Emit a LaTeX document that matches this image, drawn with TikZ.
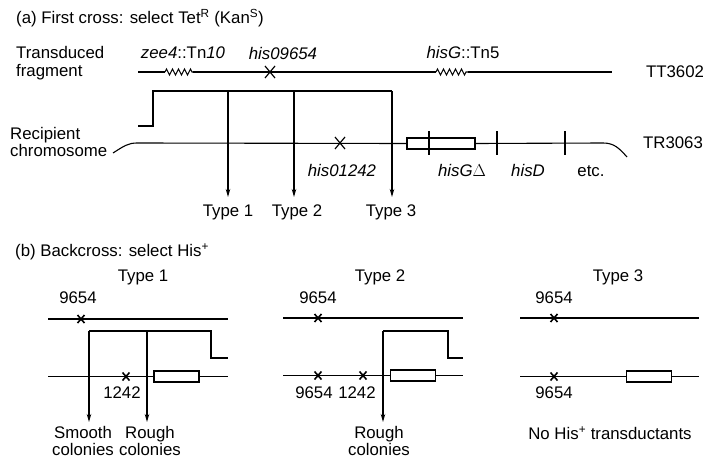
\documentclass[tikz,border=0pt]{standalone}
\usepackage{fontspec}
\setmainfont{Liberation Sans}
\usetikzlibrary{arrows.meta,decorations.pathmorphing}
\tikzset{
  lbl/.style={font=\fontsize{16.8}{17.5}\selectfont, inner sep=0pt},
  dna/.style={line width=1.1pt},
  zz/.style={decorate, decoration={zigzag, segment length=6pt, amplitude=3pt}},
  down/.style={line width=1.1pt, -{Stealth[length=8pt,width=4.5pt]}},
  gene/.style={draw, line width=1.1pt, fill=white, minimum width=68pt, minimum height=11pt, inner sep=0pt},
  smallgene/.style={draw, line width=1.1pt, fill=white, minimum width=45pt, minimum height=11pt, inner sep=0pt},
  bigx/.pic={\draw[line width=1.2pt] (-5,-6)--(5,6) (-5,6)--(5,-6);},
  smallx/.pic={\draw[line width=1.6pt] (-3.5,-4)--(3.5,4) (-3.5,4)--(3.5,-4);}
}
\begin{document}
\begin{tikzpicture}[x=1pt,y=-1pt]
\useasboundingbox (0,0) rectangle (712,460);
% ---------------- (a)
\node[lbl, anchor=west] (ta) at (16,18) {(a) First cross: select Tet\textsuperscript{R} (Kan\textsuperscript{S})};
\node[lbl, anchor=west, align=left] (tf) at (16,63) {Transduced\\fragment};
\node[lbl, anchor=west, align=left] (rc) at (10,142) {Recipient\\chromosome};
\node[lbl] (tt) at (675,72) {TT3602};
\node[lbl] (tr) at (673,143) {TR3063};
% transduced fragment
\coordinate (f0) at (138,72);
\coordinate (fz1) at (165,72);
\coordinate (fz2) at (193,72);
\coordinate (fz3) at (436,72);
\coordinate (fz4) at (468,72);
\coordinate (f1) at (612,72);
\draw[dna] (f0) -- (fz1);
\draw[dna, zz] (fz1) -- (fz2);
\draw[dna] (fz2) -- (fz3);
\draw[dna, zz] (fz3) -- (fz4);
\draw[dna] (fz4) -- (f1);
\pic at (270,72) {bigx};
\node[lbl] (zee) at (183,53) {\textit{zee4}::Tn\textit{10}};
\node[lbl] (h96) at (283,53) {\textit{his09654}};
\node[lbl] (hg) at (463,52) {\textit{hisG}::Tn5};
% recombination bracket
\coordinate (b0) at (138,126);
\coordinate (b1) at (153,126);
\coordinate (b2) at (153,91);
\coordinate (b3) at (392,91);
\coordinate (v1) at (228,91);
\coordinate (v2) at (294,91);
% recipient chromosome
\node[gene] (box) at (441,143.5) {};
\coordinate (c0) at (113,153);
\coordinate (c1) at (137,143);
\coordinate (c2) at (603,143);
\coordinate (c3) at (627,157);
\draw[dna] (c0) .. controls (124,146) and (128,143) .. (c1) -- (box.west);
\draw[dna] (box.east) -- (c2) .. controls (614,143) and (619,148) .. (c3);
\pic at (340,143) {bigx};
\draw[dna] (429,131) -- (429,155);
\draw[dna] (497,131) -- (497,155);
\draw[dna] (565,131) -- (565,155);
\node[lbl] (h12) at (342,170) {\textit{his01242}};
\node[lbl] (hgd) at (462,170) {\textit{hisG}$\Delta$};
\node[lbl] (hd) at (528,170) {\textit{hisD}};
\node[lbl] (etc) at (591,171) {etc.};
% types
\node[lbl] (t1) at (228,212) {Type 1};
\node[lbl] (t2) at (297,212) {Type 2};
\node[lbl] (t3) at (391,212) {Type 3};
\draw[dna] (b0) -- (b1) -- (b2) -- (b3);
\draw[down] (v1) -- (228,197);
\draw[down] (v2) -- (294,197);
\draw[down] (b3) -- (392,197);
% ---------------- (b)
\node[lbl, anchor=west] (tb) at (15,252) {(b) Backcross: select His\textsuperscript{+}};
% panel 1
\node[lbl] (p1) at (143,277) {Type 1};
\node[lbl] (p1a) at (78,298) {9654};
\draw[dna] (48,319) -- (228,319);
\pic at (81,319) {smallx};
\node[smallgene] (g1) at (176.5,376.5) {};
\draw[dna] (48,376.5) -- (g1.west) (g1.east) -- (228,376.5);
\pic at (126,376.5) {smallx};
\node[lbl] (p1b) at (122,393) {1242};
\draw[dna] (89,331) -- (211,331) -- (211,358) -- (228,358);
\node[lbl, align=center] (sm) at (83,441) {Smooth\\colonies};
\node[lbl, align=center] (ro1) at (150,441) {Rough\\colonies};
\draw[down] (89,331) -- (89,422);
\draw[down] (147,331) -- (147,422);
% panel 2
\node[lbl] (p2) at (380,277) {Type 2};
\node[lbl] (p2a) at (318,298) {9654};
\draw[dna] (283,318) -- (463,318);
\pic at (318,318) {smallx};
\node[smallgene] (g2) at (413,375.5) {};
\draw[dna] (283,375.5) -- (g2.west) (g2.east) -- (463,375.5);
\pic at (318,375.5) {smallx};
\pic at (363,375.5) {smallx};
\node[lbl] (p2b) at (314,393) {9654};
\node[lbl] (p2c) at (357,393) {1242};
\draw[dna] (383,331) -- (448,331) -- (448,358) -- (463,358);
\node[lbl, align=center] (ro2) at (379,441) {Rough\\colonies};
\draw[down] (383,331) -- (383,422);
% panel 3
\node[lbl] (p3) at (618,277) {Type 3};
\node[lbl] (p3a) at (554,298) {9654};
\draw[dna] (520,318) -- (699,318);
\pic at (554,318) {smallx};
\node[smallgene] (g3) at (649,376.5) {};
\draw[dna] (520,376.5) -- (g3.west) (g3.east) -- (699,376.5);
\pic at (554,376.5) {smallx};
\node[lbl] (p3b) at (554,393) {9654};
\node[lbl] (nh) at (610,433) {No His\textsuperscript{+} transductants};
\end{tikzpicture}
\end{document}
